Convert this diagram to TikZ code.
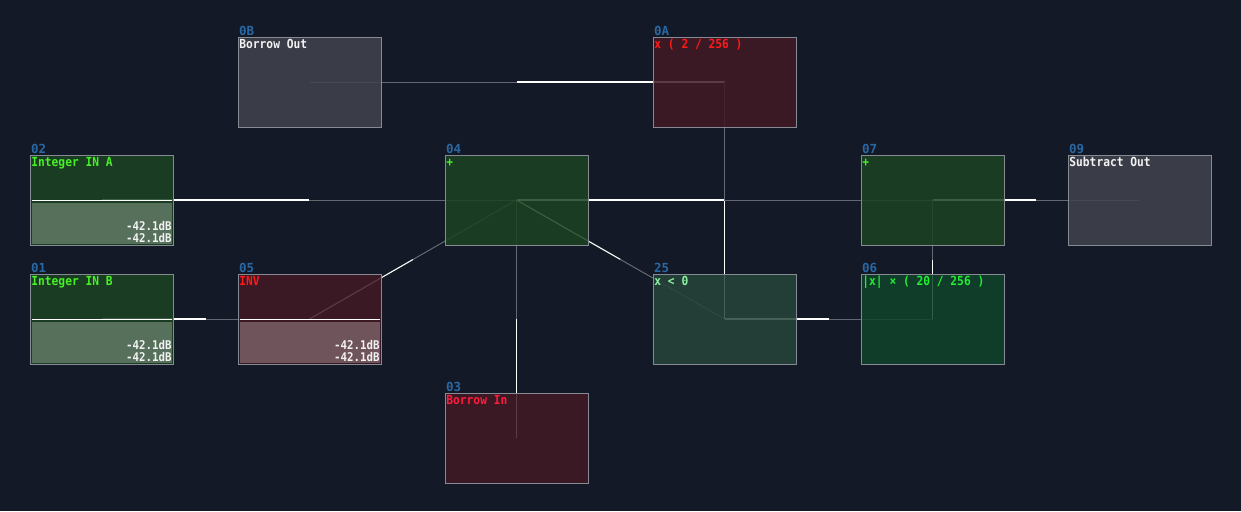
\documentclass[tikz,border=0pt]{standalone}
\usepackage{fontspec}
\setmainfont{DejaVu Sans Mono}
\newfontfamily\pix[FakeStretch=0.9]{DejaVu Sans Mono}
\newfontfamily\pixid{DejaVu Sans Mono}
\usetikzlibrary{calc}
\definecolor{bgc}{HTML}{131926}
\definecolor{idblue}{HTML}{2A68A4}
\definecolor{bord}{HTML}{868A92}
\definecolor{wgray}{HTML}{646872}
\definecolor{fgray}{HTML}{41444F}
\definecolor{fred}{HTML}{411824}
\definecolor{fgreen}{HTML}{1B4322}
\definecolor{fteal}{HTML}{26443A}
\definecolor{fgreentwo}{HTML}{10442A}
\definecolor{slgreen}{HTML}{56705C}
\definecolor{slred}{HTML}{70545C}
\definecolor{tgreen}{HTML}{48F028}
\definecolor{tred}{HTML}{FF1A1A}
\definecolor{tredtwo}{HTML}{FF1C3C}
\definecolor{tlgreen}{HTML}{8CF0A0}
\definecolor{tgreentwo}{HTML}{22EE33}
\definecolor{twhite}{HTML}{F2F2F2}
\tikzset{
  slot/.style={minimum width=143pt, minimum height=90pt, inner sep=0pt, outer sep=0pt},
  blk/.style={draw=bord, line width=0.8pt, fill opacity=0.85},
  idlbl/.style={anchor=base west, inner sep=0pt, text=idblue, font=\pixid\bfseries\fontsize{12.5}{12.5}\selectfont},
  ttl/.style={anchor=base west, inner sep=0pt, font=\pix\bfseries\fontsize{12.5}{12.5}\selectfont},
  val/.style={anchor=base east, inner sep=0pt, text=twhite, font=\pix\bfseries\fontsize{12}{12}\selectfont},
  wirew/.style={draw=white, line width=1.1pt},
  wireg/.style={draw=wgray, line width=1pt},
  slline/.style={draw=white, line width=1.2pt},
}
\newcommand\mkslot[2]{\node[slot] (#1) at (#2) {};}
\newcommand\paint[5]{%
  \draw[blk, fill=#2] (#1.south west) rectangle (#1.north east);
  \node[idlbl] (#1id) at ($(#1.north west)+(1,-1.2)$) {#3};
  \node[ttl, text=#4] (#1t) at ($(#1.north west)+(1.2,11.5)$) {#5};
}
\newcommand\wire[2]{%
  \draw[wirew] (#1.center) -- ($(#1.center)!0.5!(#2.center)$);
  \draw[wireg] ($(#1.center)!0.5!(#2.center)$) -- (#2.center);
}
\newcommand\slider[2]{%
  \fill[#2] ($(#1.west)+(1.5,2.6)$) rectangle ($(#1.south east)+(-1.5,-1.2)$);
  \draw[slline] ($(#1.west)+(1.5,0.8)$) -- ($(#1.east)+(-1.5,0.8)$);
  \node[val] (#1va) at ($(#1.south east)+(-1.2,-15)$) {-42.1dB};
  \node[val] (#1vb) at ($(#1.south east)+(-1.2,-3)$) {-42.1dB};
}
\begin{document}
\begin{tikzpicture}[x=1pt,y=-1pt]
\useasboundingbox (0,0) rectangle (1241,511);
\fill[bgc] (0,0) rectangle (1241,511);
% block positions
\mkslot{n0B}{309.5,82}
\mkslot{n0A}{724.5,82}
\mkslot{n02}{101.5,200}
\mkslot{n04}{516.5,200}
\mkslot{n07}{932.5,200}
\mkslot{n09}{1139.5,200}
\mkslot{n01}{101.5,319}
\mkslot{n05}{309.5,319}
\mkslot{n25}{724.5,319}
\mkslot{n06}{932.5,319}
\mkslot{n03}{516.5,438}
% wires (under the blocks)
\wire{n02}{n04}
\wire{n01}{n05}
\wire{n05}{n04}
\wire{n03}{n04}
\wire{n04}{n07}
\wire{n04}{n25}
\wire{n25}{n06}
\wire{n06}{n07}
\wire{n07}{n09}
\wire{n0A}{n0B}
\wire{n25}{n0A}
% blocks
\paint{n0B}{fgray}{0B}{twhite}{Borrow Out}
\paint{n0A}{fred}{0A}{tred}{x ( 2 / 256 )}
\paint{n02}{fgreen}{02}{tgreen}{Integer IN A}
\paint{n04}{fgreen}{04}{tgreen}{+}
\paint{n07}{fgreen}{07}{tgreen}{+}
\paint{n09}{fgray}{09}{twhite}{Subtract Out}
\paint{n01}{fgreen}{01}{tgreen}{Integer IN B}
\paint{n05}{fred}{05}{tred}{INV}
\paint{n25}{fteal}{25}{tlgreen}{x < 0}
\paint{n06}{fgreentwo}{06}{tgreentwo}{|x| × ( 20 / 256 )}
\paint{n03}{fred}{03}{tredtwo}{Borrow In}
\slider{n02}{slgreen}
\slider{n01}{slgreen}
\slider{n05}{slred}
\end{tikzpicture}
\end{document}
